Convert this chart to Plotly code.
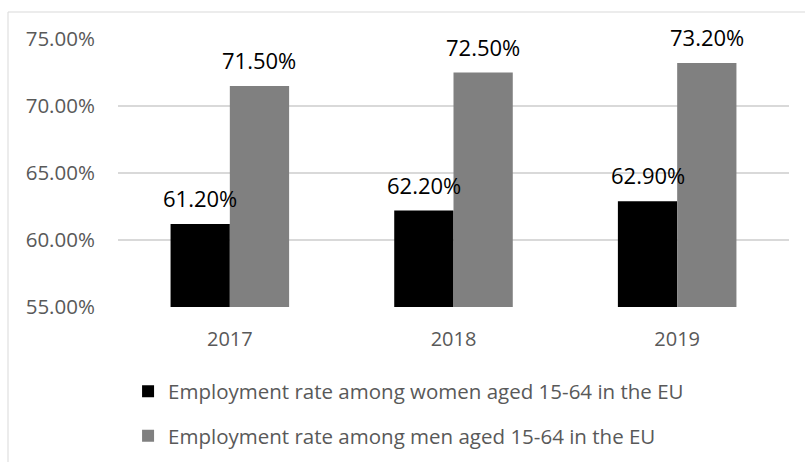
import plotly.graph_objects as go

years = ["2017", "2018", "2019"]
women = [61.2, 62.2, 62.9]
men = [71.5, 72.5, 73.2]
names = ["Employment rate among women aged 15-64 in the EU",
         "Employment rate among men aged 15-64 in the EU"]
colors = ["#000000", "#808080"]
yticks = [55, 60, 65, 70, 75]

FONT = "Open Sans"
L, R, T, B = 118, 16, 39, 155
W, H = 805, 462
pw = W - L - R
ph = H - T - B

fig = go.Figure()
for i, (vals, nm, col) in enumerate(zip([women, men], names, colors)):
    fig.add_trace(go.Bar(
        x=years, y=vals, name=nm, marker=dict(color=col, line=dict(width=0)),
        legendgroup=str(i),
    ))

# data labels (category axis: position by category index)
bargap = 0.47
cat_px = pw / len(years)
bar_px = cat_px * (1 - bargap) / 2
for i, vals in enumerate([women, men]):
    shift = (-0.5 if i == 0 else 0.5) * bar_px
    for j, v in enumerate(vals):
        fig.add_annotation(x=j, y=v, xref="x", yref="y", text=f"{v:.2f}%", showarrow=False,
                           xshift=shift, yanchor="bottom", yshift=9,
                           font=dict(family=FONT, size=22, color="#000000"))

# outer frame
fig.add_shape(type="rect", xref="paper", yref="paper",
              x0=(8 - L) / pw, x1=1.2,
              y0=-0.7, y1=1 + (T - 12) / ph,
              line=dict(color="#d9d9d9", width=1), fillcolor="rgba(0,0,0,0)", layer="below")

fig.update_layout(
    width=W, height=H, margin=dict(l=L, r=R, t=T, b=B, autoexpand=False),
    paper_bgcolor="white", plot_bgcolor="white",
    barmode="group", bargap=bargap, bargroupgap=0,
    font=dict(family=FONT, color="#595959"),
    showlegend=True,
    legend=dict(orientation="v", x=0.015, xanchor="left", y=-0.24, yanchor="top",
                traceorder="grouped", tracegroupgap=15,
                font=dict(family=FONT, size=20.5, color="#595959")),
    xaxis=dict(type="category", range=[-0.5, 2.5], showgrid=False, showline=False,
               ticks="outside", ticklen=14, tickcolor="rgba(0,0,0,0)",
               tickfont=dict(family=FONT, size=20, color="#595959")),
    yaxis=dict(range=[55, 75], tickvals=yticks, ticktext=[f"{v:.2f}%" for v in yticks],
               showgrid=True, gridcolor="#d9d9d9", gridwidth=1.5, zeroline=False,
               showline=False, ticks="outside", ticklen=18, tickcolor="rgba(0,0,0,0)",
               tickfont=dict(family=FONT, size=20.5, color="#595959")),
)

fig.write_html("out.html")
